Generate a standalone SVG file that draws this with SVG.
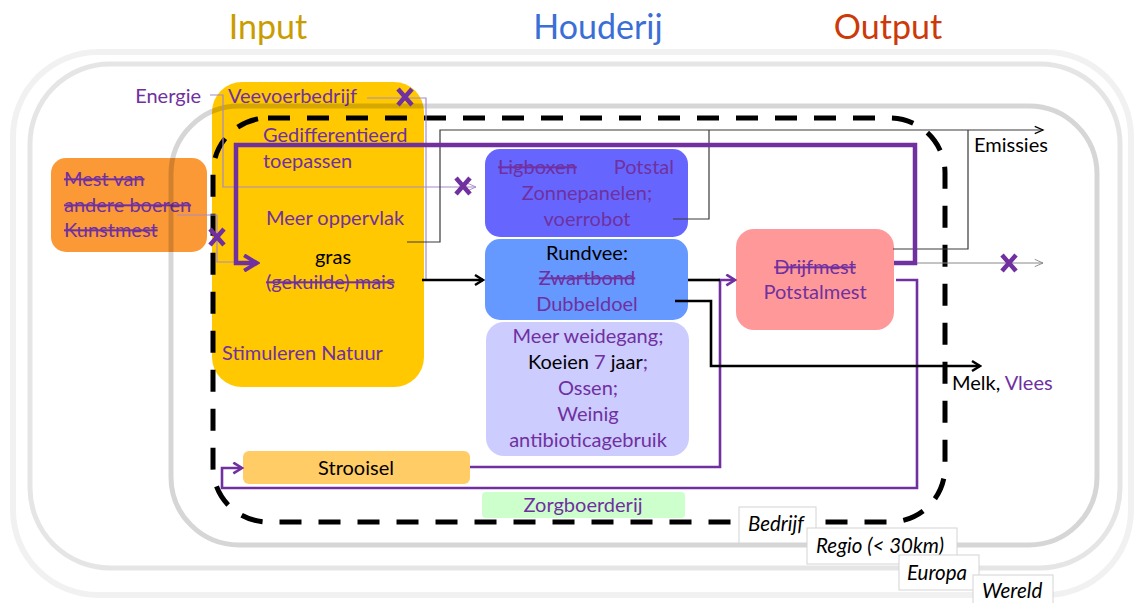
<svg xmlns="http://www.w3.org/2000/svg" width="1138" height="603" viewBox="0 0 1138 603">
<style>
text{font-family:Lato,"Noto Sans",sans-serif;font-size:20px;fill:#7030a0}
.k{fill:#000}
.s{text-decoration:line-through}
.c{text-anchor:middle}
.e{text-anchor:end}
.title{font-size:34px}
.lab{font-style:italic;font-size:20.5px;fill:#000}
.lbox{fill:#fff;stroke:#d4d4d4;stroke-width:1}
.thinp{fill:none;stroke:#a68bc6;stroke-width:1.2}
.think{fill:none;stroke:#3a3a3a;stroke-width:1.2}
.x{stroke:#7030a0;stroke-width:4.5;stroke-linecap:butt}
</style>
<defs>
<marker id="aK" viewBox="0 0 12 12" refX="10" refY="6" markerWidth="12" markerHeight="12" markerUnits="userSpaceOnUse" orient="auto"><path d="M2,1 L10,6 L2,11" fill="none" stroke="#000" stroke-width="2.4"/></marker>
<marker id="aP" viewBox="0 0 12 12" refX="10" refY="6" markerWidth="13" markerHeight="13" markerUnits="userSpaceOnUse" orient="auto"><path d="M2,1 L10,6 L2,11" fill="none" stroke="#7030a0" stroke-width="2.4"/></marker>
<marker id="aPB" viewBox="0 0 14 14" refX="12" refY="7" markerWidth="18" markerHeight="18" markerUnits="userSpaceOnUse" orient="auto"><path d="M2,1 L12,7 L2,13" fill="none" stroke="#7030a0" stroke-width="3"/></marker>
<marker id="aT" viewBox="0 0 12 12" refX="10" refY="6" markerWidth="11" markerHeight="11" markerUnits="userSpaceOnUse" orient="auto"><path d="M1,2 L10,6 L1,10" fill="none" stroke="#000" stroke-width="1.4"/></marker>
<marker id="aG" viewBox="0 0 12 12" refX="10" refY="6" markerWidth="11" markerHeight="11" markerUnits="userSpaceOnUse" orient="auto"><path d="M1,2 L10,6 L1,10" fill="none" stroke="#888" stroke-width="1"/></marker>
<marker id="aLP" viewBox="0 0 12 12" refX="10" refY="6" markerWidth="11" markerHeight="11" markerUnits="userSpaceOnUse" orient="auto"><path d="M1,2 L10,6 L1,10" fill="none" stroke="#a68bc6" stroke-width="1"/></marker>
</defs>

<g id="titles">
<text x="268" y="39" class="title c" style="fill:#c99d00">Input</text>
<text x="598" y="39" class="title c" style="fill:#3b6fd6">Houderij</text>
<text x="888" y="39" class="title c" style="fill:#cc3a0a">Output</text>
</g>

<g id="input-box">
<rect x="212" y="82" width="212" height="305" rx="30" fill="#ffc800"/>
<text x="228" y="103">Veevoerbedrijf</text>
<text x="263" y="142">Gedifferentieerd</text>
<text x="263" y="168">toepassen</text>
<text x="266" y="225">Meer oppervlak</text>
<text x="333" y="264" class="k c">gras</text>
<text x="266" y="289" class="s">(gekuilde) mais</text>
<text x="222" y="360">Stimuleren Natuur</text>
</g>

<g id="mest">
<rect x="51" y="158" width="156" height="94" rx="15" fill="#fb9937"/>
<text x="64" y="186" class="s">Mest van</text>
<text x="64" y="212" class="s">andere boeren</text>
<text x="64" y="237" class="s">Kunstmest</text>
</g>

<g id="energie">
<text x="201" y="103" class="e">Energie</text>
</g>

<g id="stal">
<rect x="485" y="149" width="203" height="88" rx="15" fill="#6666ff"/>
<text x="498" y="174" class="s">Ligboxen</text>
<text x="674" y="174" class="e">Potstal</text>
<text x="587" y="200" class="c">Zonnepanelen;</text>
<text x="587" y="226" class="c">voerrobot</text>
</g>

<g id="rundvee">
<rect x="485" y="239" width="203" height="81" rx="15" fill="#6699ff"/>
<text x="587" y="260" class="k c">Rundvee:</text>
<text x="587" y="285" class="c s">Zwartbond</text>
<text x="587" y="311" class="c">Dubbeldoel</text>
</g>

<g id="welzijn">
<rect x="486" y="322" width="203" height="134" rx="18" fill="#ccccff"/>
<text x="588" y="343" class="c">Meer weidegang;</text>
<text x="588" y="369" class="c"><tspan class="k">Koeien </tspan>7<tspan class="k"> jaar</tspan>;</text>
<text x="588" y="395" class="c">Ossen;</text>
<text x="588" y="421" class="c">Weinig</text>
<text x="588" y="447" class="c">antibioticagebruik</text>
</g>

<g id="mestoutput">
<rect x="736" y="229" width="158" height="101" rx="18" fill="#ff9999"/>
<text x="815" y="274" class="c s">Drijfmest</text>
<text x="815" y="299" class="c">Potstalmest</text>
</g>

<g id="strooisel">
<rect x="243" y="451" width="227" height="33" rx="6" fill="#ffcc66"/>
<text x="356" y="475" class="k c">Strooisel</text>
</g>

<g id="zorg">
<rect x="482" y="492" width="203" height="26" rx="4" fill="#ccffcc"/>
<text x="583" y="512" class="c">Zorgboerderij</text>
</g>

<g id="rings" fill="none">
<rect x="13" y="52" width="1118" height="543" rx="85" stroke="#000" stroke-opacity="0.055" stroke-width="6"/>
<rect x="30" y="64" width="1090" height="504" rx="80" stroke="#000" stroke-opacity="0.1" stroke-width="5"/>
<rect x="171" y="106" width="926" height="439" rx="68" stroke="#000" stroke-opacity="0.16" stroke-width="5"/>
<rect x="213" y="118" width="732" height="404" rx="55" stroke="#000" stroke-width="5" stroke-dasharray="22 17"/>
</g>

<g id="connectors">
<path class="thinp" d="M210,95 H223 V187 H476" marker-end="url(#aLP)"/>
<path class="thinp" d="M367,98 H426 V280"/>
<path class="thinp" d="M177,215 H217 V262 H236"/>
<path class="think" d="M407,242 H440 V130 H1043" marker-end="url(#aT)"/>
<path class="think" d="M673,219 H709 V130"/>
<path class="think" d="M893,249 H968 V130"/>
<path d="M894,263 H1043" fill="none" stroke="#888" stroke-width="1" marker-end="url(#aG)"/>
<path d="M894,263 H915 V145 H236 V263 H257" fill="none" stroke="#7030a0" stroke-width="4.5" marker-end="url(#aPB)"/>
<path d="M896,280 H917 V488 H222 V468 H242" fill="none" stroke="#7030a0" stroke-width="2.6" marker-end="url(#aP)"/>
<path d="M470,467 H720 V280 H735" fill="none" stroke="#7030a0" stroke-width="2.6" marker-end="url(#aP)"/>
<path d="M688,280 H720" fill="none" stroke="#000" stroke-width="2.6"/>
<path d="M422,280 H483" fill="none" stroke="#000" stroke-width="2.6" marker-end="url(#aK)"/>
<path d="M675,301 H711 V366 H980" fill="none" stroke="#000" stroke-width="2.6" marker-end="url(#aK)"/>
</g>

<g id="crosses">
<path class="x" d="M398,89 L412,105 M412,89 L398,105"/>
<path class="x" d="M456,178 L470,194 M470,178 L456,194"/>
<path class="x" d="M210,229 L224,245 M224,229 L210,245"/>
<path class="x" d="M1002,255 L1016,271 M1016,255 L1002,271"/>
</g>

<g id="output-labels">
<text x="974" y="152" class="k">Emissies</text>
<text x="952" y="390"><tspan class="k">Melk, </tspan>Vlees</text>
</g>

<g id="scale-labels">
<rect class="lbox" x="739" y="507" width="77" height="36"/>
<text x="748" y="531" class="lab">Bedrijf</text>
<rect class="lbox" x="807" y="528" width="150" height="36"/>
<text x="816" y="553" class="lab">Regio (&lt; 30km)</text>
<rect class="lbox" x="899" y="555" width="80" height="35"/>
<text x="907" y="580" class="lab">Europa</text>
<rect class="lbox" x="973" y="575" width="80" height="30"/>
<text x="982" y="598" class="lab">Wereld</text>
</g>
</svg>
